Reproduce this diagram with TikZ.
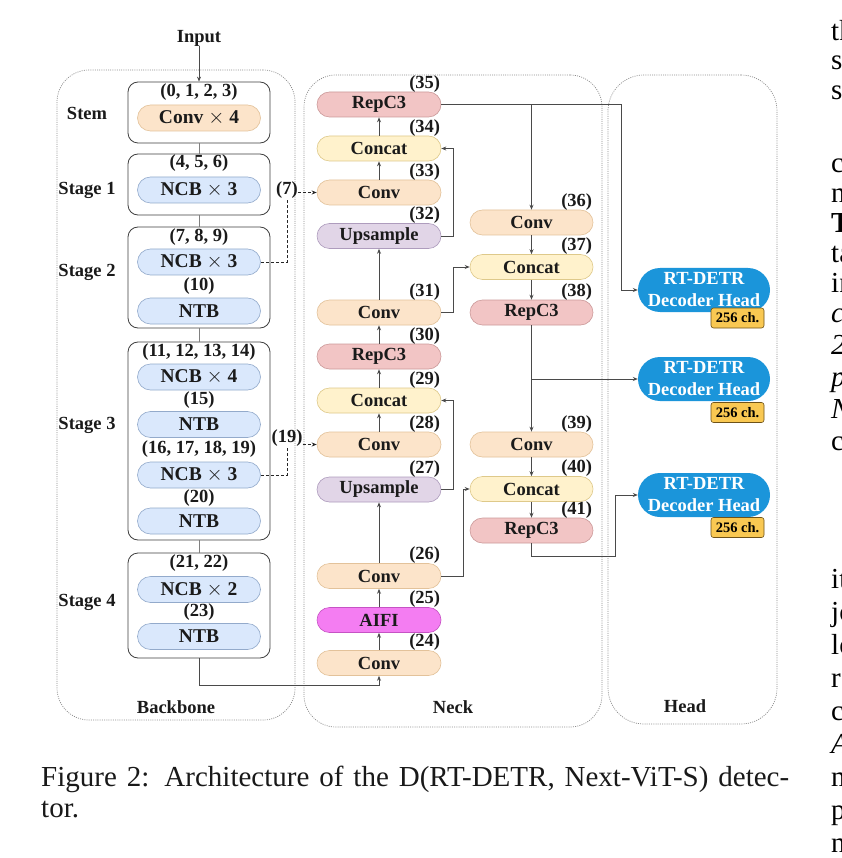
\documentclass[tikz,border=0pt]{standalone}
\usepackage{fontspec}
\setmainfont{Liberation Serif}
\usetikzlibrary{arrows.meta,calc}
\definecolor{convF}{HTML}{FCE4CA}
\definecolor{convD}{HTML}{E3C29A}
\definecolor{concF}{HTML}{FFF2CC}
\definecolor{concD}{HTML}{DEC98A}
\definecolor{repF}{HTML}{F2C5C5}
\definecolor{repD}{HTML}{CC9A9A}
\definecolor{upF}{HTML}{E1D5E7}
\definecolor{upD}{HTML}{AE9CBD}
\definecolor{aifiF}{HTML}{F47DF2}
\definecolor{aifiD}{HTML}{C653C4}
\definecolor{ncbF}{HTML}{DAE8FC}
\definecolor{ncbD}{HTML}{93AACB}
\definecolor{headF}{HTML}{1B95DA}
\definecolor{badgeF}{HTML}{F9C852}
\definecolor{badgeD}{HTML}{6E5218}
\definecolor{lineC}{HTML}{4A4A4A}
\definecolor{txtC}{HTML}{1A1A1A}
\tikzset{
  pill/.style={draw, rounded corners=12.5pt, minimum height=25pt, minimum width=124pt,
    inner sep=0pt, line width=0.6pt, text=txtC, font=\bfseries\fontsize{18.5}{20}\selectfont},
  convp/.style={pill, fill=convF, draw=convD},
  concp/.style={pill, fill=concF, draw=concD},
  repp/.style={pill, fill=repF, draw=repD},
  upp/.style={pill, fill=upF, draw=upD},
  aifip/.style={pill, fill=aifiF, draw=aifiD},
  bbpill/.style={pill, minimum width=123pt, minimum height=26pt, rounded corners=13pt,
    font=\bfseries\fontsize{19.5}{21}\selectfont},
  ncbp/.style={bbpill, fill=ncbF, draw=ncbD},
  bbconv/.style={bbpill, fill=convF, draw=convD},
  lab/.style={inner sep=0pt, text=txtC, font=\bfseries\fontsize{18.5}{20}\selectfont},
  stagebox/.style={draw=black!75, rounded corners=10pt, line width=0.8pt, minimum width=142pt, inner sep=0pt},
  container/.style={draw=black!45, rounded corners=32pt, line width=0.7pt, dash pattern=on 1pt off 1.2pt, inner sep=0pt},
  conn/.style={draw=lineC, line width=0.8pt},
  arr/.style={conn, -{Stealth[length=5pt,width=4pt]}},
  gconn/.style={draw=black!50, line width=1pt},
  dconn/.style={draw=black!85, line width=0.9pt, dash pattern=on 3pt off 2pt},
  headp/.style={fill=headF, rounded corners=22pt, minimum width=132pt, minimum height=44pt,
    text=white, align=center, font=\bfseries\fontsize{18.5}{22}\selectfont, inner sep=0pt},
  badge/.style={draw=badgeD, fill=badgeF, rounded corners=2.5pt, minimum width=53pt, minimum height=20pt,
    inner sep=0pt, text=black, font=\bfseries\fontsize{14.5}{16}\selectfont, line width=0.6pt},
  frag/.style={inner sep=0pt, anchor=mid west, text=black, font=\fontsize{29}{33}\selectfont},
  capt/.style={inner sep=0pt, anchor=mid west, text=black!90, font=\fontsize{29}{33}\selectfont},
}
\begin{document}
\begin{tikzpicture}[x=1pt,y=-1pt]
\useasboundingbox (0,0) rectangle (841,858);
\fill[white] (0,0) rectangle (841,858);

% containers
\node[container, minimum width=238pt, minimum height=650pt] (cbb) at (176,395) {};
\node[container, minimum width=298pt, minimum height=652pt] (cneck) at (453,401) {};
\node[container, minimum width=169pt, minimum height=649pt, rounded corners=36pt] (chead) at (692.5,399.5) {};
\node[lab] (lbb) at (176,707) {Backbone};
\node[lab] (lneck) at (453,707) {Neck};
\node[lab] (lhead) at (685,706) {Head};

% backbone
\node[lab] (inp) at (199,38) {Input};
\node[stagebox, minimum height=61pt] (s0) at (199,112.5) {};
\node[stagebox, minimum height=61pt] (s1) at (199,184.5) {};
\node[stagebox, minimum height=101pt] (s2) at (199,277.5) {};
\node[stagebox, minimum height=198pt] (s3) at (199,441) {};
\node[stagebox, minimum height=105pt] (s4) at (199,605.5) {};

\node[lab] (n0) at (199,92) {(0, 1, 2, 3)};
\node[bbconv] (p0) at (199,118) {Conv $\times$ 4};
\node[lab] (n1) at (199,163.5) {(4, 5, 6)};
\node[ncbp] (p1) at (199,190) {NCB $\times$ 3};
\node[lab] (n2) at (199,237) {(7, 8, 9)};
\node[ncbp] (p2) at (199,262) {NCB $\times$ 3};
\node[lab] (n3) at (199,286) {(10)};
\node[ncbp] (p3) at (199,311) {NTB};
\node[lab] (n4) at (199,352.5) {(11, 12, 13, 14)};
\node[ncbp] (p4) at (199,377) {NCB $\times$ 4};
\node[lab] (n5) at (199,400) {(15)};
\node[ncbp] (p5) at (199,424.5) {NTB};
\node[lab] (n6) at (199,449.5) {(16, 17, 18, 19)};
\node[ncbp] (p6) at (199,475) {NCB $\times$ 3};
\node[lab] (n7) at (199,498) {(20)};
\node[ncbp] (p7) at (199,521) {NTB};
\node[lab] (n8) at (199,563.5) {(21, 22)};
\node[ncbp] (p8) at (199,589.5) {NCB $\times$ 2};
\node[lab] (n9) at (199,612) {(23)};
\node[ncbp] (p9) at (199,636.5) {NTB};

\node[lab] (st0) at (87,113) {Stem};
\node[lab] (st1) at (87,190) {Stage 1};
\node[lab] (st2) at (87,272) {Stage 2};
\node[lab] (st3) at (87,425) {Stage 3};
\node[lab] (st4) at (87,602) {Stage 4};

\draw[arr] (inp.south) -- (s0.north);
\draw[gconn] (s0.south) -- (s1.north);
\draw[gconn] (s1.south) -- (s2.north);
\draw[gconn] (s2.south) -- (s3.north);
\draw[gconn] (s3.south) -- (s4.north);

% neck left column
\node[repp]  (c35) at (379,104.5) {RepC3};
\node[concp] (c34) at (379,148.5) {Concat};
\node[convp] (c33) at (379,192.5) {Conv};
\node[upp]   (c32) at (379,236) {Upsample};
\node[convp] (c31) at (379,312.5) {Conv};
\node[repp]  (c30) at (379,356.5) {RepC3};
\node[concp] (c29) at (379,400.5) {Concat};
\node[convp] (c28) at (379,444.5) {Conv};
\node[upp]   (c27) at (379,489.5) {Upsample};
\node[convp] (c26) at (379,576) {Conv};
\node[aifip] (c25) at (379,620) {AIFI};
\node[convp] (c24) at (379,663) {Conv};
% neck right column
\node[convp, minimum width=123pt] (c36) at (531.5,222.5) {Conv};
\node[concp, minimum width=123pt] (c37) at (531.5,267) {Concat};
\node[repp,  minimum width=123pt] (c38) at (531.5,312.5) {RepC3};
\node[convp, minimum width=123pt] (c39) at (531.5,444.5) {Conv};
\node[concp, minimum width=123pt] (c40) at (531.5,489) {Concat};
\node[repp,  minimum width=123pt] (c41) at (531.5,530.5) {RepC3};

\foreach \n in {24,25,26,27,28,29,30,31,32,33,34,35,36,37,38,39,40,41}{
  \node[lab, anchor=south east] (l\n) at ($(c\n.north east)+(-1,0.5)$) {(\n)};
}

% head
\node[headp] (h1) at (704,290) {RT-DETR\\Decoder Head};
\node[headp] (h2) at (704,379) {RT-DETR\\Decoder Head};
\node[headp] (h3) at (704,495) {RT-DETR\\Decoder Head};
\node[badge] (b1) at (737.5,318) {256 ch.};
\node[badge] (b2) at (737.5,412.5) {256 ch.};
\node[badge] (b3) at (737.5,527.5) {256 ch.};

% dashed skip links
\node[lab] (l7) at (287,190) {(7)};
\node[lab] (l19) at (287,438) {(19)};
\draw[dconn] (p2.east) -| (l7.south);
\draw[dconn, -{Stealth[length=5pt,width=4pt]}] (l7.east |- c33.west) -- (c33.west);
\draw[dconn] (p6.east) -| (l19.south);
\draw[dconn, -{Stealth[length=5pt,width=4pt]}] (l19.east |- c28.west) -- (c28.west);

% backbone -> neck
\coordinate (k24) at (379,685);
\draw[arr] (s4.south) |- (k24) -- (c24.south);

% neck vertical flow
\draw[arr] (c24.north) -- (c25.south);
\draw[arr] (c25.north) -- (c26.south);
\draw[arr] (c26.north) -- (c27.south);
\draw[arr] (c28.north) -- (c29.south);
\draw[arr] (c29.north) -- (c30.south);
\draw[arr] (c30.north) -- (c31.south);
\draw[arr] (c31.north) -- (c32.south);
\draw[arr] (c33.north) -- (c34.south);
\draw[arr] (c34.north) -- (c35.south);

\draw[arr] (c27.east) -- ++(12,0) |- (c29.east);
\draw[arr] (c32.east) -- ++(12,0) |- (c34.east);
\draw[arr] (c26.east) -- ++(22,0) |- (c40.west);
\draw[arr] (c31.east) -- ++(12,0) |- (c37.west);

\coordinate (t1) at (621,104.5);
\draw[arr] (c35.east) -- (t1) |- (h1.west);
\draw[arr] (c35.east -| c36.north) -- (c36.north);
\draw[arr] (c36.south) -- (c37.north);
\draw[arr] (c37.south) -- (c38.north);
\draw[arr] (c38.south) |- (h2.west);
\draw[arr] (c38.south |- h2.west) -- (c39.north);
\draw[arr] (c39.south) -- (c40.north);
\draw[arr] (c40.south) -- (c41.north);
\coordinate (t3) at (615,556);
\draw[arr] (c41.south) |- (t3) |- (h3.west);

% caption
\node[capt] (cap1) at (41,784) {\hbox to 748pt{Figure 2: Architecture of the D(RT-DETR, Next-ViT-S) detec-}};
\node[capt] (cap2) at (41,815) {tor.};

% cut-off text of the neighbouring column
\node[frag] (f1) at (831,38) {th};
\node[frag] (f2) at (831,67) {s};
\node[frag] (f3) at (831,97) {s};
\node[frag] (f4) at (831,170) {c};
\node[frag] (f5) at (831,200) {n};
\node[frag] (f6) at (831,230) {\bfseries T};
\node[frag] (f7) at (831,260) {ta};
\node[frag] (f8) at (831,290) {in};
\node[frag] (f9) at (831,320) {\itshape c};
\node[frag] (f10) at (831,352) {\itshape 2};
\node[frag] (f11) at (831,384) {\itshape p};
\node[frag] (f12) at (831,416) {\itshape N};
\node[frag] (f13) at (831,448) {c};
\node[frag] (f14) at (831,586) {it};
\node[frag] (f15) at (831,619) {jo};
\node[frag] (f16) at (831,652) {lo};
\node[frag] (f17) at (831,685) {r};
\node[frag] (f18) at (831,718) {c};
\node[frag] (f19) at (831,751) {\itshape A};
\node[frag] (f20) at (831,784) {m};
\node[frag] (f21) at (831,817) {p};
\node[frag] (f22) at (831,850) {n};
\end{tikzpicture}
\end{document}
